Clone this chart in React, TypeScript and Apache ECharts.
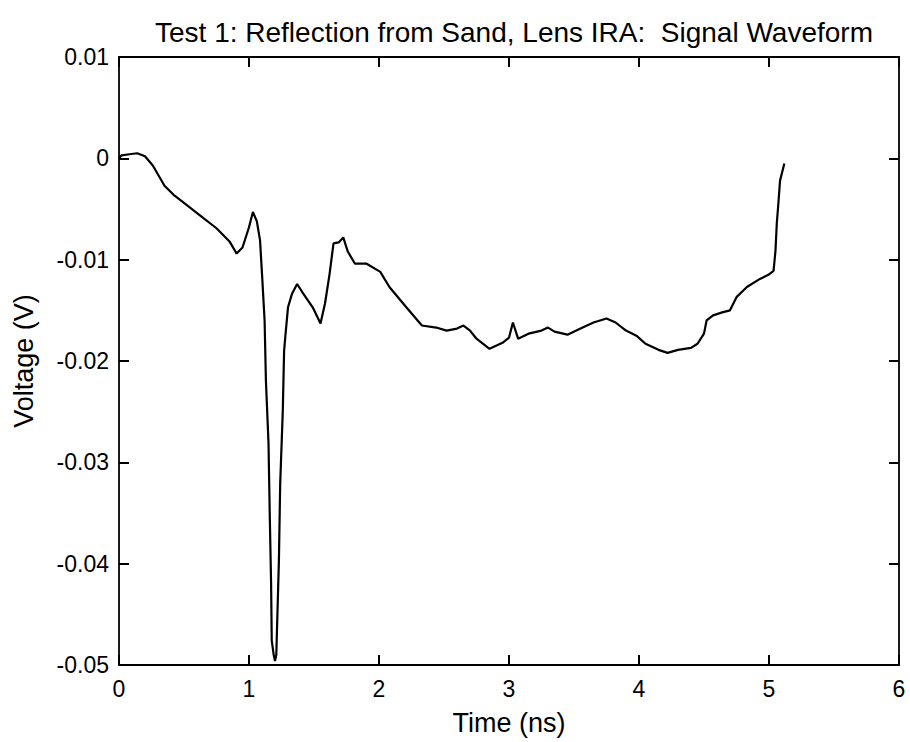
import React, { useEffect, useRef } from "react";
import * as echarts from "echarts";

const TITLE = "Test 1: Reflection from Sand, Lens IRA:  Signal Waveform";
const X_NAME = "Time (ns)";
const Y_NAME = "Voltage (V)";

const timeNs = [
  0, 0.02, 0.08, 0.14, 0.2, 0.26, 0.35, 0.42, 0.49, 0.62, 0.75, 0.85, 0.905, 0.95, 1.0, 1.03, 1.06, 1.085, 1.1, 1.12,
  1.13, 1.15, 1.16, 1.17, 1.175, 1.19, 1.2, 1.21, 1.213, 1.23, 1.24, 1.26, 1.27, 1.28, 1.3, 1.33, 1.37, 1.42, 1.49, 1.55,
  1.585, 1.62, 1.65, 1.69, 1.725, 1.76, 1.815, 1.905, 2.01, 2.08, 2.21, 2.33, 2.44, 2.52, 2.6, 2.65, 2.7, 2.75, 2.85, 2.95,
  3.0, 3.03, 3.07, 3.15, 3.25, 3.3, 3.35, 3.45, 3.55, 3.65, 3.75, 3.82, 3.9, 3.98, 4.05, 4.15, 4.22, 4.3, 4.4, 4.45,
  4.5, 4.52, 4.57, 4.64, 4.7, 4.75, 4.83, 4.93, 4.995, 5.035, 5.05, 5.06, 5.07, 5.085, 5.118,
];

const voltage = [
  0, 0.0003, 0.0004, 0.0005, 0.0002, -0.0007, -0.0027, -0.0036, -0.0043, -0.0056, -0.0069, -0.0082, -0.0094, -0.0088,
  -0.0068, -0.0053, -0.0062, -0.0081, -0.0114, -0.016, -0.0219, -0.0281, -0.0354, -0.042, -0.0476, -0.049, -0.0496,
  -0.049, -0.0476, -0.0397, -0.0321, -0.0249, -0.019, -0.0175, -0.0147, -0.0134, -0.0124, -0.0134, -0.0147, -0.0163,
  -0.0143, -0.0114, -0.0084, -0.0083, -0.0078, -0.0092, -0.0104, -0.0104, -0.0112, -0.0127, -0.0147, -0.0165, -0.0167,
  -0.017, -0.0168, -0.0165, -0.017, -0.0178, -0.0188, -0.0182, -0.0177, -0.0162, -0.0178, -0.0173, -0.017, -0.0167,
  -0.0171, -0.0174, -0.0168, -0.0162, -0.0158, -0.0162, -0.017, -0.0175, -0.0183, -0.0189, -0.0192, -0.0189, -0.0187,
  -0.0183, -0.0173, -0.016, -0.0155, -0.0152, -0.015, -0.0137, -0.0127, -0.0119, -0.0115, -0.0111, -0.0091, -0.0064,
  -0.0048, -0.0022, -0.0005,
];

const X_MIN = 0;
const X_MAX = 6;
const X_STEP = 1;
const Y_MIN = -0.05;
const Y_MAX = 0.01;
const Y_STEP = 0.01;

const FONT = "'Liberation Sans', Arial, Helvetica, sans-serif";

const mkLine = () => ({ show: true, onZero: false, lineStyle: { color: "#000", width: 1.8 } });
const mkTick = () => ({ show: true, inside: true, length: 10, lineStyle: { color: "#000", width: 2 } });

export default function App() {
  const ref = useRef<HTMLDivElement>(null);
  useEffect(() => {
    if (!ref.current) return;
    const chart = echarts.init(ref.current, null, { renderer: "svg" });
    const data = timeNs.map((t, i) => [t, voltage[i]]);
    chart.setOption({
      animation: false,
      backgroundColor: "#fff",
      title: {
        text: TITLE,
        left: 509,
        top: 13,
        textAlign: "center",
        textStyle: { color: "#000", fontSize: 28, fontWeight: "normal", fontFamily: FONT },
      },
      grid: { left: 119, right: 11, top: 57, bottom: 77, containLabel: false },
      xAxis: [
        {
          type: "value",
          min: X_MIN,
          max: X_MAX,
          interval: X_STEP,
          position: "bottom",
          name: X_NAME,
          nameLocation: "middle",
          nameGap: 44,
          nameTextStyle: { color: "#000", fontSize: 27, fontFamily: FONT },
          axisLine: mkLine(),
          axisTick: mkTick(),
          axisLabel: { color: "#000", fontSize: 23, fontFamily: FONT, margin: 12 },
          splitLine: { show: false },
        },
        {
          type: "value",
          min: X_MIN,
          max: X_MAX,
          interval: X_STEP,
          position: "top",
          axisLine: mkLine(),
          axisTick: mkTick(),
          axisLabel: { show: false },
          splitLine: { show: false },
        },
      ],
      yAxis: [
        {
          type: "value",
          min: Y_MIN,
          max: Y_MAX,
          interval: Y_STEP,
          position: "left",
          name: Y_NAME,
          nameLocation: "middle",
          nameGap: 82,
          nameTextStyle: { color: "#000", fontSize: 27, fontFamily: FONT },
          axisLine: mkLine(),
          axisTick: mkTick(),
          axisLabel: {
            color: "#000",
            fontSize: 23,
            fontFamily: FONT,
            margin: 10,
            formatter: (v: number) => String(Math.round(v * 100) / 100),
          },
          splitLine: { show: false },
        },
        {
          type: "value",
          min: Y_MIN,
          max: Y_MAX,
          interval: Y_STEP,
          position: "right",
          axisLine: mkLine(),
          axisTick: mkTick(),
          axisLabel: { show: false },
          splitLine: { show: false },
        },
      ],
      series: [
        {
          type: "line",
          data,
          xAxisIndex: 0,
          yAxisIndex: 0,
          showSymbol: false,
          symbol: "none",
          lineStyle: { color: "#000", width: 2.2 },
        },
      ],
    });
    return () => chart.dispose();
  }, []);
  return <div ref={ref} style={{ width: 910, height: 742, position: "absolute", left: 0, top: 0 }} />;
}
